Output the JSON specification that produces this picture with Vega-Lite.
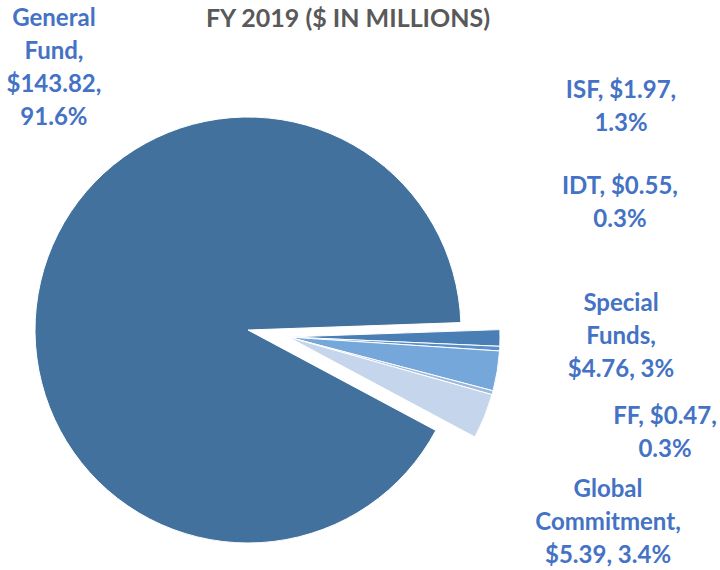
{
  "$schema": "https://vega.github.io/schema/vega-lite/v6.json",
  "width": 426,
  "height": 426,
  "autosize": "none",
  "padding": {"left": 35, "top": 117, "right": 259, "bottom": 27},
  "background": "white",
  "title": {
    "text": "FY 2019 ($ IN MILLIONS)",
    "frame": "group",
    "anchor": "middle",
    "dx": 100,
    "offset": -25,
    "baseline": "top",
    "font": "Lato",
    "fontSize": 25,
    "fontWeight": "bold",
    "color": "#595959"
  },
  "data": {
    "values": [
      {"name": "ISF", "value": 1.97, "pct": "1.3%", "order": 1, "label": "ISF, $1.97,\n1.3%"},
      {"name": "IDT", "value": 0.55, "pct": "0.3%", "order": 2, "label": "IDT, $0.55,\n0.3%"},
      {"name": "Special Funds", "value": 4.76, "pct": "3%", "order": 3, "label": "Special\nFunds,\n$4.76, 3%"},
      {"name": "FF", "value": 0.47, "pct": "0.3%", "order": 4, "label": "FF, $0.47,\n0.3%"},
      {"name": "Global Commitment", "value": 5.39, "pct": "3.4%", "order": 5, "label": "Global\nCommitment,\n$5.39, 3.4%"},
      {"name": "General Fund", "value": 143.82, "pct": "91.6%", "order": 6, "label": "General\nFund,\n$143.82,\n91.6%"}
    ]
  },
  "layer": [
    {
      "layer": [
        {
          "mark": {"type": "arc", "radius": 213, "stroke": "white", "strokeWidth": 1},
          "encoding": {
            "theta": {"field": "value", "type": "quantitative", "stack": true, "scale": {"range": [1.5359, 7.8191]}},
            "order": {"field": "order", "type": "quantitative"},
            "color": {
              "field": "name", "type": "nominal", "legend": null,
              "scale": {
                "domain": ["ISF", "IDT", "Special Funds", "FF", "Global Commitment", "General Fund"],
                "range": ["#4A7FB6", "#5B8FCB", "#75A7DA", "#9DB9DE", "#C5D5EB", "#41719C"]
              }
            },
            "opacity": {"condition": {"test": "datum.name === 'General Fund'", "value": 1}, "value": 0}
          }
        },
        {
          "mark": {"type": "arc", "radius": 212, "stroke": "white", "strokeWidth": 1, "xOffset": 40, "yOffset": 7},
          "encoding": {
            "theta": {"field": "value", "type": "quantitative", "stack": true},
            "order": {"field": "order", "type": "quantitative"},
            "color": {"field": "name", "type": "nominal", "legend": null},
            "opacity": {"condition": {"test": "datum.name === 'General Fund'", "value": 0}, "value": 1}
          }
        }
      ]
    },
    {
      "mark": {
        "type": "text", "font": "Lato", "fontWeight": "bold", "fontSize": 24,
        "lineHeight": 33, "lineBreak": "\n", "align": "center", "baseline": "middle", "color": "#4472C4"
      },
      "encoding": {
        "theta": {
          "field": "order", "type": "quantitative", "stack": null,
          "scale": {"type": "linear", "zero": false, "domain": [1, 2, 3, 4, 5, 6], "range": [1.001, 1.2037, 1.5012, 1.7765, 1.989, 5.7253]}
        },
        "radius": {
          "field": "order", "type": "quantitative",
          "scale": {"type": "linear", "zero": false, "domain": [1, 2, 3, 4, 5, 6], "range": [443.0, 398.5, 373.9, 426.0, 394.0, 366.6]}
        },
        "text": {"field": "label", "type": "nominal"}
      }
    }
  ],
  "resolve": {"scale": {"theta": "independent", "radius": "independent"}},
  "config": {"view": {"stroke": null}}
}
